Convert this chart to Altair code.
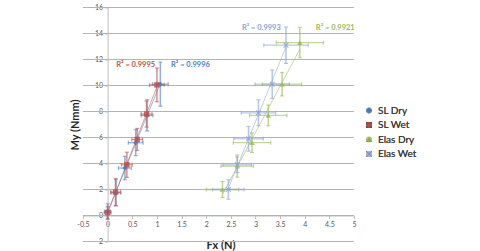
import altair as alt
import pandas as pd

series_names = ["SL Dry", "SL Wet", "Elas Dry", "Elas Wet"]
series_colors = ["#4F81BD", "#C0504D", "#9BBB59", "#8DA4D4"]

sl_dry_x = [0.0, 0.17, 0.35, 0.57, 0.80, 1.07]
sl_dry_y = [0.30, 1.75, 3.65, 5.60, 7.70, 10.10]
sl_dry_xerr = [0.06, 0.10, 0.13, 0.15, 0.12, 0.16]
sl_dry_yerr = [0.60, 1.00, 0.90, 1.00, 1.20, 1.70]

sl_wet_x = [0.0, 0.16, 0.39, 0.60, 0.79, 1.00]
sl_wet_y = [0.23, 1.80, 3.90, 5.85, 7.80, 10.05]
sl_wet_xerr = [0.07, 0.10, 0.11, 0.11, 0.11, 0.15]
sl_wet_yerr = [0.45, 1.05, 0.97, 0.85, 1.00, 1.30]

elas_dry_x = [2.33, 2.63, 2.93, 3.26, 3.54, 3.90]
elas_dry_y = [2.00, 3.80, 5.60, 7.70, 10.10, 13.30]
elas_dry_xerr = [0.33, 0.33, 0.38, 0.38, 0.40, 0.48]
elas_dry_yerr = [0.62, 0.85, 0.75, 0.80, 0.90, 1.17]

elas_wet_x = [2.45, 2.63, 2.86, 3.06, 3.34, 3.62]
elas_wet_y = [2.00, 3.90, 5.90, 7.90, 10.10, 13.10]
elas_wet_xerr = [0.32, 0.29, 0.30, 0.35, 0.35, 0.45]
elas_wet_yerr = [0.75, 0.60, 0.95, 1.00, 1.10, 1.40]

r2_labels = ["R² = 0.9996", "R² = 0.9995", "R² = 0.9921", "R² = 0.9993"]
r2_x = [1.68, 0.57, 4.62, 3.12]
r2_y = [11.6, 11.6, 14.4, 14.4]

x_ticks = [-0.5, 0, 0.5, 1, 1.5, 2, 2.5, 3, 3.5, 4, 4.5, 5]
y_ticks = [-2, 0, 2, 4, 6, 8, 10, 12, 14, 16]

rows = []
for name, xs_, ys_, xe, ye in [
    ("SL Dry", sl_dry_x, sl_dry_y, sl_dry_xerr, sl_dry_yerr),
    ("SL Wet", sl_wet_x, sl_wet_y, sl_wet_xerr, sl_wet_yerr),
    ("Elas Dry", elas_dry_x, elas_dry_y, elas_dry_xerr, elas_dry_yerr),
    ("Elas Wet", elas_wet_x, elas_wet_y, elas_wet_xerr, elas_wet_yerr),
]:
    for x, y, a, b in zip(xs_, ys_, xe, ye):
        rows.append({"series": name, "x": x, "y": y,
                     "xlo": x - a, "xhi": x + a, "ylo": y - b, "yhi": y + b})
df = pd.DataFrame(rows)
lab = pd.DataFrame({"series": series_names, "label": r2_labels, "x": r2_x, "y": r2_y})
grid_df = pd.DataFrame({"gy": [float(v) for v in y_ticks],
                        "gxa": [float(x_ticks[0])] * len(y_ticks),
                        "gxb": [float(x_ticks[-1])] * len(y_ticks)})

xs = alt.Scale(domain=[x_ticks[0], x_ticks[-1]], nice=False, zero=False)
ys = alt.Scale(domain=[y_ticks[0], y_ticks[-1]], nice=False, zero=False)
cs = alt.Scale(domain=series_names, range=series_colors)
x_shape = "M-1,-0.75L-0.75,-1L0,-0.3L0.75,-1L1,-0.75L0.3,0L1,0.75L0.75,1L0,0.3L-0.75,1L-1,0.75L-0.3,0Z"
ss = alt.Scale(domain=series_names, range=["diamond", "square", "triangle-up", x_shape])

TOP, LEFT = 7.5, 83
W, H = 271, 234
y0_px = H * 16 / 18
x0_px = W * 0.5 / 5.5

x_axis = alt.Axis(values=x_ticks, labelExpr="'' + datum.value", offset=-(H - y0_px),
                  grid=False, labelOverlap=False, labelFlush=False,
                  title="Fx (N)", titleX=W / 2 + 2, titleY=245 - TOP - y0_px,
                  titleBaseline="middle", titleAnchor="middle")
y_axis = alt.Axis(values=y_ticks, labelExpr="'' + datum.value", offset=-x0_px,
                  grid=False, labelOverlap=False, labelFlush=False,
                  title="My (Nmm)", titleX=75 - LEFT - x0_px, titleY=H / 2,
                  titleBaseline="middle", titleAnchor="middle", titleAngle=-90)


def X(f):
    return alt.X(f, type="quantitative", scale=xs, axis=x_axis)


def Y(f):
    return alt.Y(f, type="quantitative", scale=ys, axis=y_axis)


C = alt.Color("series:N", scale=cs, legend=None)

gridlines = alt.Chart(grid_df).mark_rule(strokeWidth=1.2).encode(
    x=X("gxa"), x2=alt.X2("gxb"), y=Y("gy"), color=alt.value("#B4B4B4"))

base = alt.Chart(df)

trend = base.transform_regression("x", "y", groupby=["series"]).mark_line(
    strokeWidth=1, opacity=0.55).encode(x=X("x"), y=Y("y"), color=C)

herr = base.mark_rule(strokeWidth=1.3, opacity=0.6).encode(
    x=X("xlo"), x2="xhi:Q", y=Y("y"), color=C)
verr = base.mark_rule(strokeWidth=1.6, opacity=0.6).encode(
    x=X("x"), y=Y("ylo"), y2="yhi:Q", color=C)
cap_style = dict(thickness=1.2, opacity=0.6)
cap_ylo = base.mark_tick(orient="horizontal", size=4, **cap_style).encode(
    x=X("x"), y=Y("ylo"), color=C)
cap_yhi = base.mark_tick(orient="horizontal", size=4, **cap_style).encode(
    x=X("x"), y=Y("yhi"), color=C)
cap_xlo = base.mark_tick(orient="vertical", size=4, **cap_style).encode(
    x=X("xlo"), y=Y("y"), color=C)
cap_xhi = base.mark_tick(orient="vertical", size=4, **cap_style).encode(
    x=X("xhi"), y=Y("y"), color=C)

legend = alt.Legend(title=None, orient="none", legendX=281, legendY=98,
                    labelFont="Lato", labelFontSize=10, labelFontWeight="normal",
                    labelColor="#404040",
                    symbolSize=36, rowPadding=4.5, labelOffset=4, padding=0,
                    symbolStrokeWidth=0)
points = base.mark_point(filled=True, size=30, opacity=0.85).encode(
    x=X("x"), y=Y("y"),
    color=alt.Color("series:N", scale=cs, legend=legend),
    shape=alt.Shape("series:N", scale=ss, legend=legend),
)

texts = alt.Chart(lab).mark_text(font="Lato", fontSize=7.5, fontWeight="bold").encode(
    x=X("x"), y=Y("y"), text="label:N",
    color=alt.Color("series:N", scale=cs, legend=None))

chart = alt.layer(gridlines, trend, herr, verr, cap_ylo, cap_yhi, cap_xlo, cap_xhi,
                  points, texts).resolve_scale(color="independent").properties(
    width=W, height=H,
    autosize=alt.AutoSizeParams(type="none"),
    padding={"left": LEFT, "top": TOP, "right": 480 - LEFT - W, "bottom": 251 - TOP - H},
    background="white",
).configure_view(stroke=None).configure_axis(
    labelOverlap=False, domainColor="#BFBFBF", tickColor="#BFBFBF", tickSize=3,
    labelFontSize=7, labelColor="#595959", labelFont="Lato", labelPadding=2,
    titleFont="Lato", titleFontSize=11, titleFontWeight="bold", titleColor="#262626",
)

chart.save("out.html", embed_options={"renderer": "svg", "actions": False})
